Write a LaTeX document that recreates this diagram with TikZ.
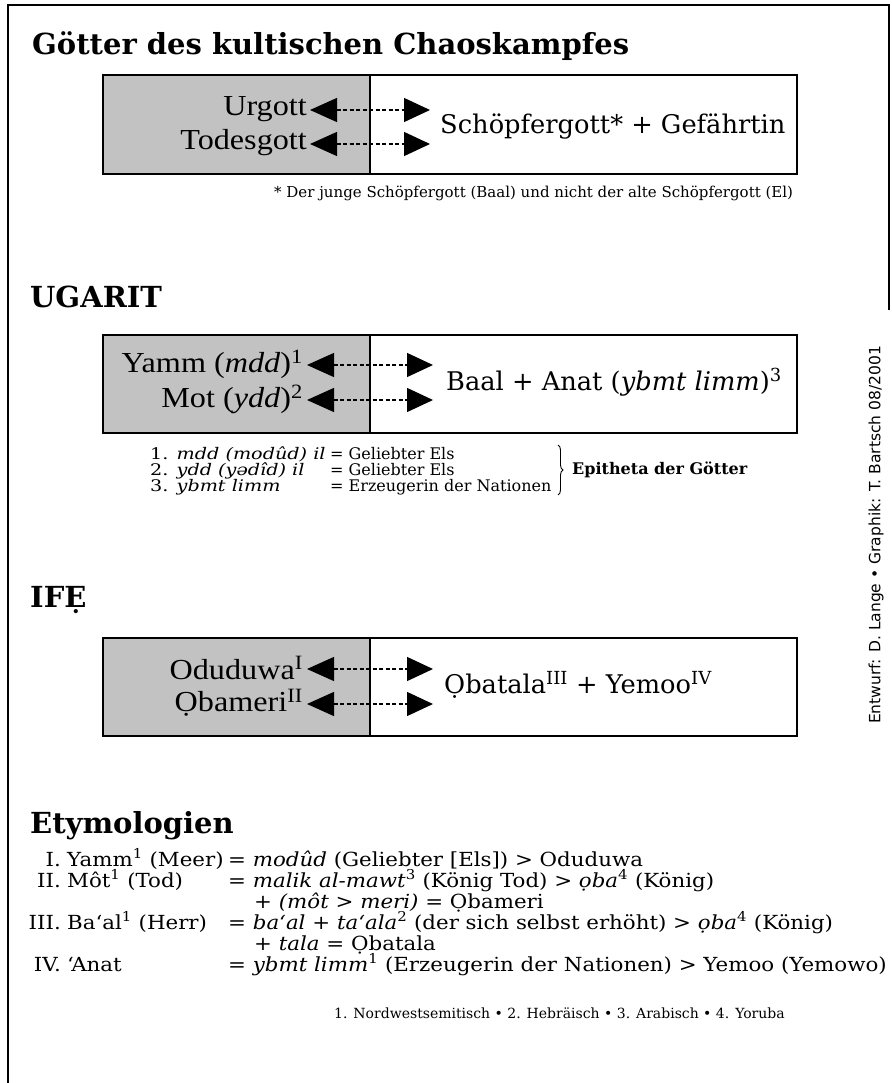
\documentclass[tikz,border=0pt]{standalone}
\usepackage{fontspec}
\setmainfont{DejaVu Serif}
\newfontfamily\timesf[FakeStretch=1.11]{Liberation Serif}
\newfontfamily\etfont[FakeStretch=1.1]{DejaVu Serif}
\newfontfamily\wideserif[FakeStretch=1.2]{DejaVu Serif}
\newfontfamily\sidefont{DejaVu Sans}
\usetikzlibrary{arrows.meta,decorations.pathreplacing}
\begin{document}
\begin{tikzpicture}[x=1pt,y=-1pt,
  frameline/.style={line width=1.6pt},
  cellbox/.style={draw, line width=2pt},
  shadecell/.style={fill=black!24},
  divider/.style={line width=1.4pt},
  heading/.style={anchor=base west, inner sep=0pt, font=\bfseries\fontsize{29}{34}\selectfont},
  leftlab/.style={anchor=east, inner sep=0pt, font=\timesf\fontsize{29}{33}\selectfont},
  rightlab/.style={anchor=west, inner sep=0pt, font=\fontsize{25.7}{30}\selectfont},
  link/.style={dash pattern=on 4pt off 2.5pt, line width=1.3pt,
     {Triangle[length=27pt,width=24pt]}-{Triangle[length=26pt,width=24pt]}},
  note/.style={anchor=base west, inner sep=0pt, font=\fontsize{15}{18}\selectfont},
  listtxt/.style={anchor=base west, inner sep=0pt, font=\fontsize{16}{19}\selectfont},
  listleft/.style={anchor=base west, inner sep=0pt, font=\wideserif\fontsize{16}{19}\selectfont},
  etnum/.style={anchor=base east, inner sep=0pt, font=\etfont\fontsize{19.4}{22}\selectfont},
  ettxt/.style={anchor=base west, inner sep=0pt, font=\etfont\fontsize{19.4}{22}\selectfont},
  credit/.style={rotate=90, inner sep=0pt, font=\sidefont\fontsize{15.5}{18}\selectfont}
]
\useasboundingbox (0,0) rectangle (891,1083);
\fill[white] (0,0) rectangle (891,1083);
% frame
\draw[frameline] (8,1083) -- (8,5) -- (889,5) -- (889,310);

% ---------- Section 1
\node[heading] (t1) at (32,55) {Götter des kultischen Chaoskampfes};
\fill[shadecell] (103,75) rectangle (370,174);
\draw[cellbox] (103,75) rectangle (797,174);
\draw[divider] (370,75) -- (370,174);
\node[leftlab] (urgott) at (307,109) {Urgott};
\node[leftlab] (todesgott) at (307,143) {Todesgott};
\node[rightlab] (schoepfer) at (440,127) {Schöpfergott* + Gefährtin};
\coordinate (a1l) at (310,110); \coordinate (a1r) at (430,110);
\coordinate (a2l) at (310,144); \coordinate (a2r) at (430,144);
\draw[link] (a1l) -- (a1r);
\draw[link] (a2l) -- (a2r);
\node[note] (fn1) at (274,198) {* Der junge Schöpfergott (Baal) und nicht der alte Schöpfergott (El)};

% ---------- Section 2
\node[heading] (t2) at (30,307) {UGARIT};
\fill[shadecell] (103,335) rectangle (370,433);
\draw[cellbox] (103,335) rectangle (797,433);
\draw[divider] (370,335) -- (370,433);
\node[leftlab] (yamm) at (303,364) {Yamm (\textit{mdd})\textsuperscript{1}};
\node[leftlab] (mot) at (303,399) {Mot (\textit{ydd})\textsuperscript{2}};
\node[rightlab] (baal) at (446,382) {Baal + Anat (\textit{ybmt limm})\textsuperscript{3}};
\coordinate (b1l) at (307,365); \coordinate (b1r) at (433,365);
\coordinate (b2l) at (307,400); \coordinate (b2r) at (433,400);
\draw[link] (b1l) -- (b1r);
\draw[link] (b2l) -- (b2r);
\node[listleft] (e1a) at (150,459) {1. \textit{mdd (modûd) il}};
\node[listleft] (e2a) at (150,475) {2. \textit{ydd (yədîd) il}};
\node[listleft] (e3a) at (150,491) {3. \textit{ybmt limm}};
\node[listtxt] (e1b) at (330,459) {= Geliebter Els};
\node[listtxt] (e2b) at (330,475) {= Geliebter Els};
\node[listtxt] (e3b) at (330,491) {= Erzeugerin der Nationen};
\coordinate (brt) at (558,445); \coordinate (brb) at (558,495);
\draw[line width=0.9pt, decorate, decoration={brace, amplitude=5pt}] (brt) -- (brb);
\node[listtxt, anchor=west, font=\bfseries\fontsize{16}{19}\selectfont] (epi) at (572,470) {Epitheta der Götter};

% ---------- Section 3
\node[heading] (t3) at (30,607) {IFẸ};
\fill[shadecell] (103,638) rectangle (370,736);
\draw[cellbox] (103,638) rectangle (797,736);
\draw[divider] (370,638) -- (370,736);
\node[leftlab] (odu) at (303,668) {Oduduwa\textsuperscript{I}};
\node[leftlab] (oba) at (303,703) {Ọbameri\textsuperscript{II}};
\node[rightlab] (obat) at (444,685) {Ọbatala\textsuperscript{III} + Yemoo\textsuperscript{IV}};
\coordinate (c1l) at (307,669); \coordinate (c1r) at (433,669);
\coordinate (c2l) at (307,704); \coordinate (c2r) at (433,704);
\draw[link] (c1l) -- (c1r);
\draw[link] (c2l) -- (c2r);

% ---------- Section 4
\node[heading] (t4) at (30,833) {Etymologien};
\node[etnum] (n1) at (61,866) {I.};
\node[ettxt] (l1) at (67,866) {Yamm\textsuperscript{1} (Meer)};
\node[ettxt] (r1) at (228,866) {= \textit{modûd} (Geliebter [Els]) > Oduduwa};
\node[etnum] (n2) at (61,887) {II.};
\node[ettxt] (l2) at (67,887) {Môt\textsuperscript{1} (Tod)};
\node[ettxt] (r2) at (228,887) {= \textit{malik al-mawt}\textsuperscript{3} (König Tod) > \textit{ọba}\textsuperscript{4} (König)};
\node[ettxt] (r2b) at (254,908) {+ \textit{(môt > meri)} = Ọbameri};
\node[etnum] (n3) at (61,929) {III.};
\node[ettxt] (l3) at (67,929) {Ba‘al\textsuperscript{1} (Herr)};
\node[ettxt] (r3) at (228,929) {= \textit{ba‘al} + \textit{ta‘ala}\textsuperscript{2} (der sich selbst erhöht) > \textit{ọba}\textsuperscript{4} (König)};
\node[ettxt] (r3b) at (254,950) {+ \textit{tala} = Ọbatala};
\node[etnum] (n4) at (61,971) {IV.};
\node[ettxt] (l4) at (67,971) {‘Anat};
\node[ettxt] (r4) at (228,971) {= \textit{ybmt limm}\textsuperscript{1} (Erzeugerin der Nationen) > Yemoo (Yemowo)};
\node[note, font=\fontsize{14}{17}\selectfont] (fn2) at (334,1018) {1. Nordwestsemitisch • 2. Hebräisch • 3. Arabisch • 4. Yoruba};

% side credit
\node[credit] (cr) at (876,535) {Entwurf: D. Lange • Graphik: T. Bartsch 08/2001};
\end{tikzpicture}
\end{document}
